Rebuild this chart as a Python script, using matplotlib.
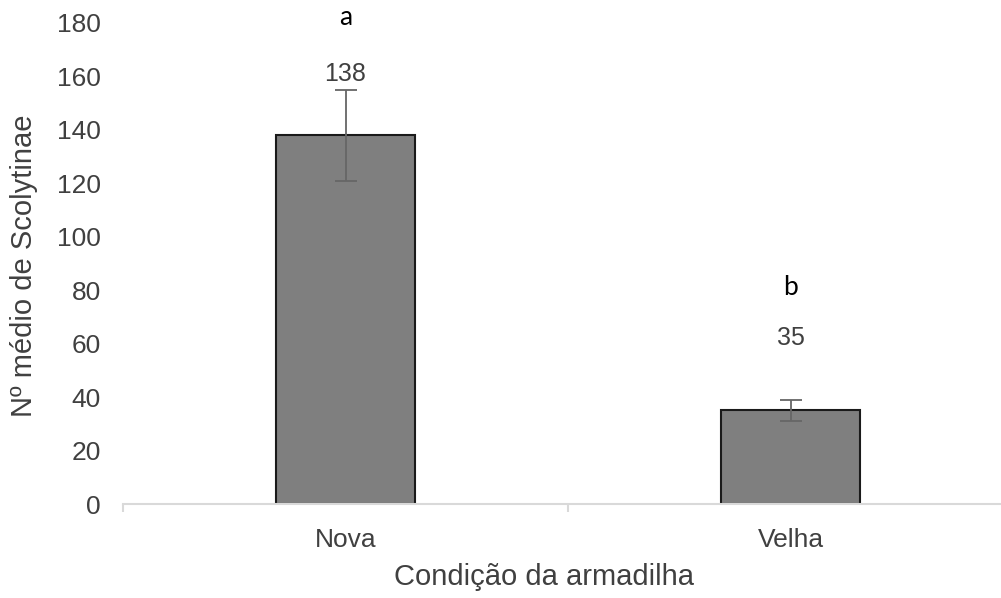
import matplotlib.pyplot as plt

plt.rcParams['font.family'] = ['Liberation Sans', 'DejaVu Sans']

# Mean catch per trap condition
categories = ['Nova', 'Velha']
means = [138, 35]
errors = [17, 4]
value_labels = ['138', '35']
letters = ['a', 'b']
letter_y = [182, 81]
label_y = [161, 62]

text_color = '#404040'

fig = plt.figure(figsize=(10.01, 5.98), dpi=100)
# axes run past the right edge, as in the original export
ax = fig.add_axes([123 / 1001, 1 - 504 / 598, 890 / 1001, 481 / 598])

x = range(len(categories))
ax.bar(x, means, width=0.313, color='#7f7f7f', edgecolor='#1a1a1a', linewidth=1.5,
       zorder=2)
ax.errorbar(x, means, yerr=errors, fmt='none', ecolor='#666666', elinewidth=1.3,
            capsize=8, capthick=1.3, zorder=3)

for i in x:
    ax.text(i, label_y[i], value_labels[i], ha='center', va='center',
            fontsize=18, color=text_color)
    ax.text(i, letter_y[i], letters[i], ha='center', va='center',
            fontsize=19, color='black', family=['Lato', 'DejaVu Sans'])

ax.set_xlim(-0.5, 1.5)
ax.set_ylim(0, 180)
ax.set_yticks(range(0, 181, 20))
ax.set_xticks(x)
ax.set_xticklabels(categories)
ax.set_xticks([-0.5, 0.5, 1.5], minor=True)

for side in ['left', 'right', 'top']:
    ax.spines[side].set_visible(False)
ax.spines['bottom'].set_color('#d9d9d9')
ax.spines['bottom'].set_linewidth(1.5)

ax.tick_params(axis='y', length=0, pad=16, labelsize=19, labelcolor=text_color)
ax.tick_params(axis='x', which='major', length=0, pad=17, labelsize=19,
               labelcolor=text_color)
ax.tick_params(axis='x', which='minor', length=6, color='#d9d9d9', width=1.5)

ax.set_xlabel('Condição da armadilha', fontsize=21, color=text_color, va='center')
ax.xaxis.set_label_coords((544 - 123) / 890, -(577 - 504) / 481)
ax.set_ylabel('Nº médio de Scolytinae', fontsize=21, color=text_color, va='center')
ax.yaxis.set_label_coords(-(123 - 24) / 890, (504 - 266) / 481)

fig.savefig('out.png', dpi=100)
